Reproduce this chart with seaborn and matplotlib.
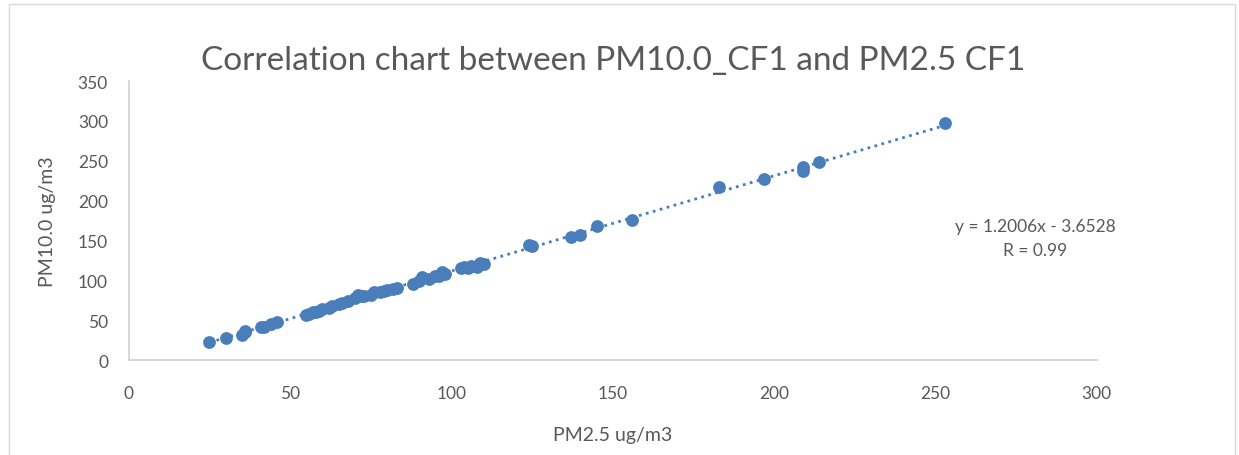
import numpy as np
import pandas as pd
import matplotlib
matplotlib.use("Agg")
import matplotlib.pyplot as plt
import seaborn as sns

# valores
pm25 = [25, 30, 35, 36, 36, 41, 42, 44, 46, 55, 56, 57, 58, 59, 60, 62, 63, 65, 66, 68,
        70, 71, 72, 73, 75, 76, 78, 79, 80, 82, 83, 88, 90, 91, 93, 95, 96, 97, 98,
        103, 104, 105, 106, 108, 109, 110, 124, 125, 137, 140, 145, 156, 183, 197,
        209, 209, 214, 253]
pm10 = [23, 28, 32, 35, 37, 41, 42, 45, 48, 57, 58, 60, 61, 62, 64, 66, 68, 70, 72, 74,
        78, 82, 80, 81, 82, 85, 86, 87, 88, 89, 91, 96, 99, 104, 102, 105, 106, 110, 108,
        116, 117, 115, 118, 117, 122, 121, 144, 143, 154, 157, 168, 176, 217, 227,
        237, 242, 248, 297]

title = "Correlation chart between PM10.0_CF1 and PM2.5 CF1"
eq_text = "y = 1.2006x - 3.6528\nR = 0.99"
x_ticks = [0, 50, 100, 150, 200, 250, 300]
y_ticks = [0, 50, 100, 150, 200, 250, 300, 350]

df = pd.DataFrame({"PM2.5": pm25, "PM10.0": pm10})

sns.set_style("white")
plt.rcParams["font.family"] = ["Lato", "DejaVu Sans"]

blue = "#4a7ebb"
grey = "#595959"

fig = plt.figure(figsize=(12.39, 4.56), dpi=100)
ax = fig.add_axes([0.104, 0.208, 0.781, 0.612])

sns.regplot(data=df, x="PM2.5", y="PM10.0", ax=ax, ci=None, truncate=True,
            scatter_kws={"s": 85, "color": blue, "alpha": 1, "linewidths": 0},
            line_kws={"color": blue, "linestyle": (0, (1, 1.6)), "linewidth": 2})

ax.set_xlim(0, 300)
ax.set_ylim(0, 350)
ax.set_xticks(x_ticks)
ax.set_yticks(y_ticks)
ax.tick_params(colors=grey, labelsize=12.5, length=0)
ax.tick_params(axis="x", pad=18)
ax.tick_params(axis="y", pad=15)
ax.set_xlabel("PM2.5 ug/m3", color=grey, fontsize=14, labelpad=18)
ax.set_ylabel("PM10.0 ug/m3", color=grey, fontsize=14, labelpad=16)
ax.set_title(title, color=grey, fontsize=24, pad=9)

for s in ["top", "right"]:
    ax.spines[s].set_visible(False)
for s in ["left", "bottom"]:
    ax.spines[s].set_color("#d0d0d0")
    ax.spines[s].set_linewidth(1.2)

ax.text(281, 153, eq_text, ha="center", va="center", color=grey, fontsize=12.5,
        linespacing=1.6)

# borde del area del grafico
fig.patches.append(plt.Rectangle((0.007, -0.01), 0.99, 1.0, transform=fig.transFigure,
                                 fill=False, edgecolor="#d9d9d9", linewidth=1))

fig.savefig("out.png", dpi=100)
